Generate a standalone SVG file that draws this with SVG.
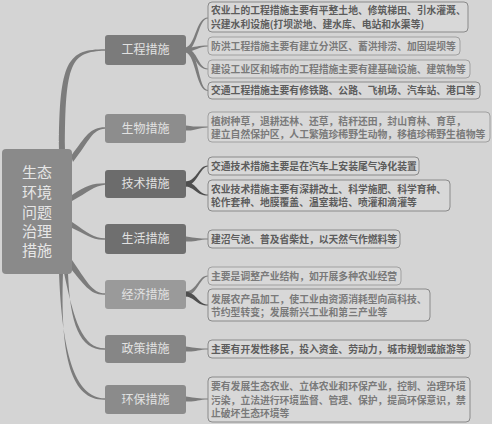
<svg xmlns="http://www.w3.org/2000/svg" width="492" height="424" viewBox="0 0 492 424">
<style>
.bg{fill:#d4d4d4}
.main{fill:#8a8a8a}
.mt{font-family:"Noto Sans CJK SC",sans-serif;font-size:15px;fill:#e6e6e6;text-anchor:middle}
.bt{font-family:"Noto Sans CJK SC",sans-serif;font-size:12px;fill:#e2e2e2;text-anchor:middle}
.leaf{fill:#d8d8d8;stroke:#8a8a8a;stroke-width:1}
.leafl{fill:#d8d8d8;stroke:#a0a0a0;stroke-width:1}
.lt{font-family:"Noto Sans CJK SC",sans-serif;font-size:9.8px;font-weight:bold;fill:#5c5c5c}
.ltl{font-family:"Noto Sans CJK SC",sans-serif;font-size:9.8px;font-weight:bold;fill:#7a7a7a}
.c{fill:#7c7c7c}
.cd{fill:#4e4e4e}
</style>
<rect class="bg" x="0" y="0" width="492" height="424"/>
<g id="connectors">
<!-- main to branches -->
<path class="c" d="M59,150 C59,60 68,49.3 105,49.3 L105,50.7 C71,51.5 65,62 65,150 Z"/>
<path class="c" d="M71,156 C86,136 90,127.3 105,127.3 L105,128.7 C92,129.5 90,140 73,162 Z"/>
<path class="c" d="M72,195 C86,186 92,183.3 105,183.3 L105,184.7 C94,186 88,192 72,201 Z"/>
<path class="c" d="M72,222 C88,233 94,238.3 105,238.3 L105,239.7 C92,240.5 86,234 72,228 Z"/>
<path class="c" d="M72,260 C86,280 92,293.3 105,293.3 L105,294.7 C90,295.5 84,284 70,268 Z"/>
<path class="c" d="M64,273 C74,320 82,348.3 105,348.3 L105,349.7 C80,350.5 70,325 68,273 Z"/>
<path class="c" d="M59,273 C62,350 74,398.3 105,398.3 L105,399.7 C72,400.5 60,360 63,273 Z"/>
<!-- branch to leaves -->
<path class="c" d="M186,47.5 C196,44 196,17.5 208,17.5 L208,18.5 C198,18.5 198,48 186,52.5 Z"/>
<path class="c" d="M186,48 C196,47 198,45.5 208,45.5 L208,46.5 C198,46.5 196,51 186,52 Z"/>
<path class="c" d="M186,48 C198,50 198,68.5 208,68.5 L208,69.5 C196,69.5 196,54 186,52 Z"/>
<path class="c" d="M186,47.5 C200,52 198,90 208,90 L208,91 C196,91 196,56 186,52.5 Z"/>
<path class="c" d="M186,125.5 C196,127 198,126.5 208,126.5 L208,127.5 C198,127.5 196,131 186,130.5 Z"/>
<path class="cd" d="M186,181.5 C198,180 198,165.5 208,165.5 L208,166.5 C200,166.5 198,184 186,186.5 Z"/>
<path class="cd" d="M186,181.5 C198,184 198,194.5 208,194.5 L208,195.5 C196,195.5 196,188 186,186.5 Z"/>
<path class="c" d="M186,236.5 C196,238 198,238.5 208,238.5 L208,239.5 C198,239.5 196,242 186,241.5 Z"/>
<path class="c" d="M186,291.5 C198,290 198,275.5 208,275.5 L208,276.5 C200,276.5 198,294 186,296.5 Z"/>
<path class="cd" d="M186,291.5 C198,294 198,304.5 208,304.5 L208,305.5 C196,305.5 196,298 186,296.5 Z"/>
<path class="c" d="M186,346.5 C196,348 198,348.5 208,348.5 L208,349.5 C198,349.5 196,352 186,351.5 Z"/>
<path class="c" d="M186,396.5 C196,398 198,398.5 208,398.5 L208,399.5 C198,399.5 196,402 186,401.5 Z"/>
</g>
<g id="main">
<rect class="main" x="2" y="149" width="70" height="125" rx="4"/>
<text class="mt" x="37" y="178">生态</text>
<text class="mt" x="37" y="198">环境</text>
<text class="mt" x="37" y="218">问题</text>
<text class="mt" x="37" y="237">治理</text>
<text class="mt" x="37" y="256">措施</text>
</g>
<g id="b1"><rect x="105" y="35" width="81" height="30" rx="3" fill="#7b7b7b"/><text class="bt" x="145.5" y="54.3">工程措施</text></g>
<g id="b2"><rect x="105" y="114" width="81" height="29" rx="3" fill="#8d8d8d"/><text class="bt" x="145.5" y="132.8">生物措施</text></g>
<g id="b3"><rect x="105" y="170" width="81" height="28" rx="3" fill="#6c6c6c"/><text class="bt" x="145.5" y="188.3">技术措施</text></g>
<g id="b4"><rect x="105" y="224" width="81" height="30" rx="3" fill="#6f6f6f"/><text class="bt" x="145.5" y="243.3">生活措施</text></g>
<g id="b5"><rect x="105" y="280" width="81" height="29" rx="3" fill="#9a9a9a"/><text class="bt" x="145.5" y="298.8">经济措施</text></g>
<g id="b6"><rect x="105" y="335" width="81" height="28" rx="3" fill="#868686"/><text class="bt" x="145.5" y="353.3">政策措施</text></g>
<g id="b7"><rect x="105" y="385" width="81" height="29" rx="3" fill="#8b8b8b"/><text class="bt" x="145.5" y="403.8">环保措施</text></g>
<g id="l1"><rect class="leaf" x="208" y="2" width="260" height="30" rx="4"/><text class="lt" x="211" y="14.2">农业上的工程措施主要有平整土地、修筑梯田、引水灌溉、</text><text class="lt" x="211" y="27.6">兴建水利设施(打坝淤地、建水库、电站和水渠等)</text></g>
<g id="l2"><rect class="leafl" x="208" y="37" width="252" height="18" rx="4"/><text class="ltl" x="211" y="49.5">防洪工程措施主要有建立分洪区、蓄洪排涝、加固堤坝等</text></g>
<g id="l3"><rect class="leafl" x="208" y="60" width="262" height="18" rx="4"/><text class="ltl" x="211" y="72.5">建设工业区和城市的工程措施主要有建基础设施、建筑物等</text></g>
<g id="l4"><rect class="leaf" x="208" y="82" width="272" height="17" rx="4"/><text class="lt" x="211" y="94">交通工程措施主要有修铁路、公路、飞机场、汽车站、港口等</text></g>
<g id="l5"><rect class="leafl" x="208" y="112" width="282" height="30" rx="4"/><text class="ltl" x="211" y="124.5">植树种草，退耕还林、还草，秸秆还田，封山育林、育草，</text><text class="ltl" x="211" y="138.3">建立自然保护区，人工繁殖珍稀野生动物，移植珍稀野生植物等</text></g>
<g id="l6"><rect class="leaf" x="208" y="157" width="211" height="18" rx="4"/><text class="lt" x="211" y="169.5">交通技术措施主要是在汽车上安装尾气净化装置</text></g>
<g id="l7"><rect class="leaf" x="208" y="180" width="242" height="31" rx="4"/><text class="lt" x="211" y="192.8">农业技术措施主要有深耕改土、科学施肥、科学育种、</text><text class="lt" x="211" y="206.2">轮作套种、地膜覆盖、温室栽培、喷灌和滴灌等</text></g>
<g id="l8"><rect class="leaf" x="208" y="230" width="192" height="18" rx="4"/><text class="lt" x="211" y="242.5">建沼气池、普及省柴灶，以天然气作燃料等</text></g>
<g id="l9"><rect class="leafl" x="208" y="267" width="193" height="18" rx="4"/><text class="ltl" x="211" y="280">主要是调整产业结构，如开展多种农业经营</text></g>
<g id="l10"><rect class="leaf" x="208" y="289" width="222" height="32" rx="4"/><text class="ltl" x="211" y="302.5">发展农产品加工，使工业由资源消耗型向高科技、</text><text class="ltl" x="211" y="315.8">节约型转变；发展新兴工业和第三产业等</text></g>
<g id="l11"><rect class="leaf" x="208" y="340" width="262" height="18" rx="4"/><text class="lt" x="211" y="352.5">主要有开发性移民，投入资金、劳动力，城市规划或旅游等</text></g>
<g id="l12"><rect class="leaf" x="208" y="377" width="262" height="45" rx="4"/><text class="ltl" x="211" y="390">要有发展生态农业、立体农业和环保产业，控制、治理环境</text><text class="ltl" x="211" y="403.5">污染，立法进行环境监督、管理、保护，提高环保意识，禁</text><text class="ltl" x="211" y="416.5">止破坏生态环境等</text></g>
</svg>
